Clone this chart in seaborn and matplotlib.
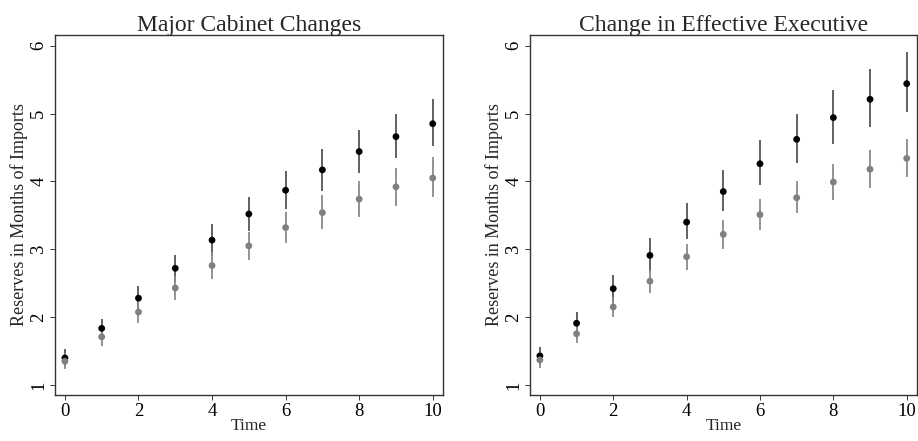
import matplotlib
matplotlib.use("Agg")
import matplotlib.pyplot as plt
import seaborn as sns
import pandas as pd

time = list(range(11))

# Major Cabinet Changes
cab_hi = [1.40, 1.835, 2.28, 2.72, 3.135, 3.52, 3.87, 4.17, 4.44, 4.66, 4.85]
cab_hi_lo = [1.28, 1.69, 2.10, 2.52, 2.90, 3.27, 3.59, 3.86, 4.13, 4.34, 4.52]
cab_hi_up = [1.53, 1.98, 2.46, 2.92, 3.37, 3.77, 4.15, 4.48, 4.76, 5.00, 5.21]
cab_lo = [1.35, 1.71, 2.075, 2.43, 2.76, 3.05, 3.32, 3.54, 3.74, 3.92, 4.05]
cab_lo_lo = [1.23, 1.58, 1.92, 2.25, 2.56, 2.84, 3.09, 3.30, 3.48, 3.64, 3.77]
cab_lo_up = [1.47, 1.84, 2.23, 2.61, 2.96, 3.26, 3.55, 3.80, 4.01, 4.20, 4.36]

# Change in Effective Executive
exe_hi = [1.43, 1.91, 2.42, 2.91, 3.40, 3.85, 4.26, 4.62, 4.94, 5.21, 5.44]
exe_hi_lo = [1.30, 1.74, 2.22, 2.66, 3.15, 3.56, 3.94, 4.27, 4.55, 4.80, 5.02]
exe_hi_up = [1.56, 2.08, 2.62, 3.16, 3.68, 4.17, 4.61, 5.00, 5.35, 5.65, 5.90]
exe_lo = [1.37, 1.755, 2.15, 2.53, 2.89, 3.22, 3.51, 3.76, 3.99, 4.18, 4.34]
exe_lo_lo = [1.25, 1.62, 2.00, 2.36, 2.70, 3.01, 3.29, 3.53, 3.73, 3.91, 4.06]
exe_lo_up = [1.49, 1.89, 2.30, 2.70, 3.08, 3.43, 3.74, 4.01, 4.25, 4.46, 4.63]

titles = ["Major Cabinet Changes", "Change in Effective Executive"]

sns.set_theme(style="white")
plt.rcParams['font.family'] = ['Liberation Serif', 'DejaVu Serif']


def panel(ax, title, hi, hi_lo, hi_up, lo, lo_lo, lo_up):
    df_hi = pd.DataFrame({"t": time, "y": hi})
    df_lo = pd.DataFrame({"t": time, "y": lo})
    ax.vlines(time, hi_lo, hi_up, color="#555555", lw=1.3, zorder=1)
    ax.vlines(time, lo_lo, lo_up, color="#8a8a8a", lw=1.3, zorder=2)
    sns.scatterplot(data=df_hi, x="t", y="y", ax=ax, color="black", s=24,
                    edgecolor="none", zorder=3)
    sns.scatterplot(data=df_lo, x="t", y="y", ax=ax, color="#808080", s=24,
                    edgecolor="none", zorder=4)
    ax.set_xlim(-0.27, 10.28)
    ax.set_ylim(0.853, 6.157)
    ax.set_xticks([0, 2, 4, 6, 8, 10])
    ax.set_yticks([1, 2, 3, 4, 5, 6])
    ax.set_title(title, fontsize=17, pad=3)
    ax.set_xlabel("Time", fontsize=12.5, labelpad=-1)
    ax.set_ylabel("Reserves in Months of Imports", fontsize=13, labelpad=2)
    ax.tick_params(axis="both", direction="out", length=3.5, width=0.7,
                   colors="#333333", labelcolor="black", labelsize=13.5, pad=2,
                   bottom=True, left=True)
    for lbl in ax.get_yticklabels():
        lbl.set_rotation(90)
        lbl.set_va("center")
    for sp in ax.spines.values():
        sp.set_visible(True)
        sp.set_color("#333333")
        sp.set_linewidth(1.0)


fig = plt.figure(figsize=(9.18, 4.41), dpi=100)
ax1 = fig.add_axes([0.0599, 0.1043, 0.4227, 0.8163])
ax2 = fig.add_axes([0.5773, 0.1043, 0.4216, 0.8163])

panel(ax1, titles[0], cab_hi, cab_hi_lo, cab_hi_up, cab_lo, cab_lo_lo, cab_lo_up)
panel(ax2, titles[1], exe_hi, exe_hi_lo, exe_hi_up, exe_lo, exe_lo_lo, exe_lo_up)

fig.savefig("out.png", dpi=100)
